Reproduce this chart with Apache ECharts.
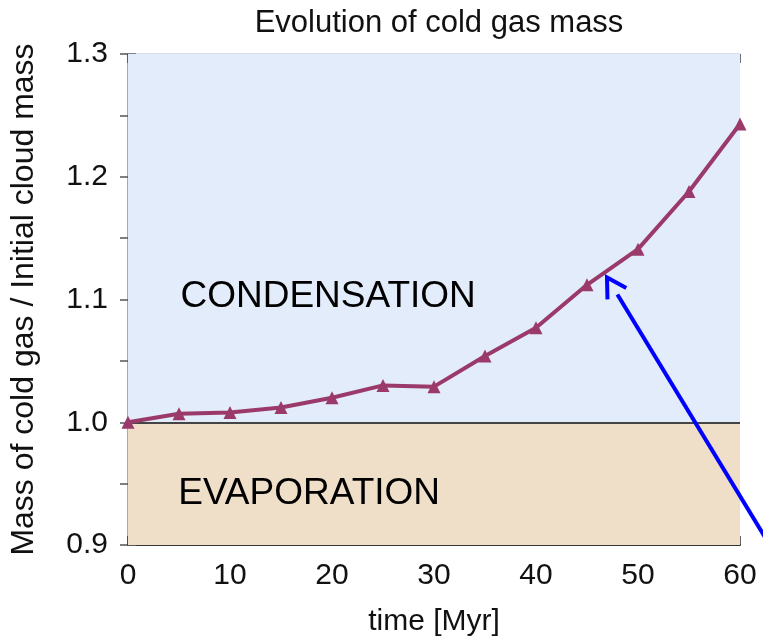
<!DOCTYPE html>
<html>
<head>
<meta charset="utf-8">
<script src="https://cdn.jsdelivr.net/npm/echarts@6/dist/echarts.min.js"></script>
<style>html,body{margin:0;padding:0;background:#fff}#c{width:763px;height:644px}</style>
</head>
<body>
<div id="c"></div>
<script>
// Data
const times = [0, 5, 10, 15, 20, 25, 30, 35, 40, 45, 50, 55, 60];
const coldMass = [1.000, 1.007, 1.008, 1.012, 1.020, 1.030, 1.029, 1.054, 1.077, 1.112, 1.141, 1.188, 1.243];
const xTicks = [0, 10, 20, 30, 40, 50, 60];
const yTicks = [0.9, 1.0, 1.1, 1.2, 1.3];
const regionLabels = ['CONDENSATION', 'EVAPORATION'];
const threshold = 1.0;
// annotation arrow (data units): tail x, tail y, tip x, tip y
const arrow = [63.8, 0.888, 46.96, 1.118];

const font = '"Liberation Sans", Arial, Helvetica, sans-serif';
const chart = echarts.init(document.getElementById('c'));

const lineData = times.map((t, i) => [t, coldMass[i]]);

function renderArrow(params, api) {
  const p0 = api.coord([api.value(0), api.value(1)]);
  const p1 = api.coord([api.value(2), api.value(3)]);
  const dx = p1[0] - p0[0], dy = p1[1] - p0[1];
  const len = Math.sqrt(dx * dx + dy * dy);
  const ux = dx / len, uy = dy / len;
  const headLen = 22, ang = Math.PI / 6;
  const back = [-ux, -uy];
  const rot = (v, a) => [v[0] * Math.cos(a) - v[1] * Math.sin(a), v[0] * Math.sin(a) + v[1] * Math.cos(a)];
  const a1 = rot(back, ang), a2 = rot(back, -ang);
  const shaftEnd = [p1[0] - ux * 20, p1[1] - uy * 20];
  return {
    type: 'group',
    children: [
      { type: 'line', shape: { x1: p0[0], y1: p0[1], x2: shaftEnd[0], y2: shaftEnd[1] },
        style: { stroke: '#0000ff', lineWidth: 4 } },
      { type: 'polyline',
        shape: { points: [[p1[0] + a1[0] * headLen, p1[1] + a1[1] * headLen], p1,
                          [p1[0] + a2[0] * headLen, p1[1] + a2[1] * headLen]] },
        style: { stroke: '#0000ff', lineWidth: 4, fill: null, lineJoin: 'miter' } }
    ]
  };
}

chart.setOption({
  backgroundColor: '#ffffff',
  animation: false,
  title: {
    text: 'Evolution of cold gas mass',
    left: 434, top: 3, textAlign: 'center',
    textStyle: { fontFamily: font, fontSize: 31, fontWeight: 'normal', color: '#111' }
  },
  grid: { left: 128, right: 23, top: 54, bottom: 99, containLabel: false },
  xAxis: [{
    type: 'value', min: xTicks[0], max: xTicks[xTicks.length - 1], interval: 10,
    name: 'time [Myr]', nameLocation: 'middle', nameGap: 62,
    nameTextStyle: { fontFamily: font, fontSize: 30, color: '#111' },
    axisLine: { show: true, lineStyle: { color: '#333', width: 2 } },
    axisTick: { show: true, inside: true, length: 9, lineStyle: { color: '#333', width: 1.5 } },
    axisLabel: { fontFamily: font, fontSize: 30, color: '#111', margin: 16 },
    splitLine: { show: false }
  }, {
    type: 'value', position: 'top', min: xTicks[0], max: xTicks[xTicks.length - 1], interval: 10,
    axisLine: { show: true, lineStyle: { color: '#cfd4dc', width: 1.5 } },
    axisTick: { show: true, inside: true, length: 9, lineStyle: { color: '#444', width: 1.5 } },
    axisLabel: { show: false }, splitLine: { show: false }
  }],
  yAxis: [{
    type: 'value', min: yTicks[0], max: yTicks[yTicks.length - 1], interval: 0.05,
    name: 'Mass of cold gas / Initial cloud mass', nameLocation: 'middle', nameGap: 88,
    nameTextStyle: { fontFamily: font, fontSize: 32, color: '#111' },
    axisLine: { show: true, lineStyle: { color: '#333', width: 2 } },
    axisTick: { show: true, inside: true, length: 8, lineStyle: { color: '#666', width: 1.5 } },
    axisLabel: {
      fontFamily: font, fontSize: 30, color: '#111', margin: 20,
      formatter: v => (Math.round(v * 100) % 10 === 0 ? v.toFixed(1) : '')
    },
    splitLine: { show: false }
  }, {
    type: 'value', position: 'right', min: yTicks[0], max: yTicks[yTicks.length - 1], interval: 0.05,
    axisLine: { show: true, lineStyle: { color: '#cfd4dc', width: 1.5 } },
    axisTick: { show: true, inside: true, length: 8, lineStyle: { color: '#555', width: 1.5 } },
    axisLabel: { show: false }, splitLine: { show: false }
  }],
  series: [{
    type: 'line',
    data: lineData,
    symbol: 'triangle', symbolSize: 13,
    lineStyle: { color: '#9b3a6a', width: 4 },
    itemStyle: { color: '#9b3a6a' },
    z: 5,
    markArea: {
      silent: true,
      data: [
        [{ coord: [xTicks[0], threshold], itemStyle: { color: '#e2ecfb' },
           label: { show: true, position: ['32.7%', '66%'], align: 'center', verticalAlign: 'middle',
                    formatter: regionLabels[0], fontFamily: font, fontSize: 37, color: '#000' } },
         { coord: [xTicks[xTicks.length - 1], yTicks[yTicks.length - 1]] }],
        [{ coord: [xTicks[0], yTicks[0]], itemStyle: { color: '#efdec8' },
           label: { show: true, position: ['29.6%', '58%'], align: 'center', verticalAlign: 'middle',
                    formatter: regionLabels[1], fontFamily: font, fontSize: 37, color: '#000' } },
         { coord: [xTicks[xTicks.length - 1], threshold] }]
      ]
    },
    markLine: {
      silent: true, symbol: 'none',
      label: { show: false },
      lineStyle: { color: '#444', width: 2, type: 'solid' },
      data: [{ yAxis: threshold }]
    }
  }, {
    type: 'custom', clip: false, z: 6, silent: true,
    renderItem: renderArrow,
    data: [arrow]
  }]
});
</script>
</body>
</html>
